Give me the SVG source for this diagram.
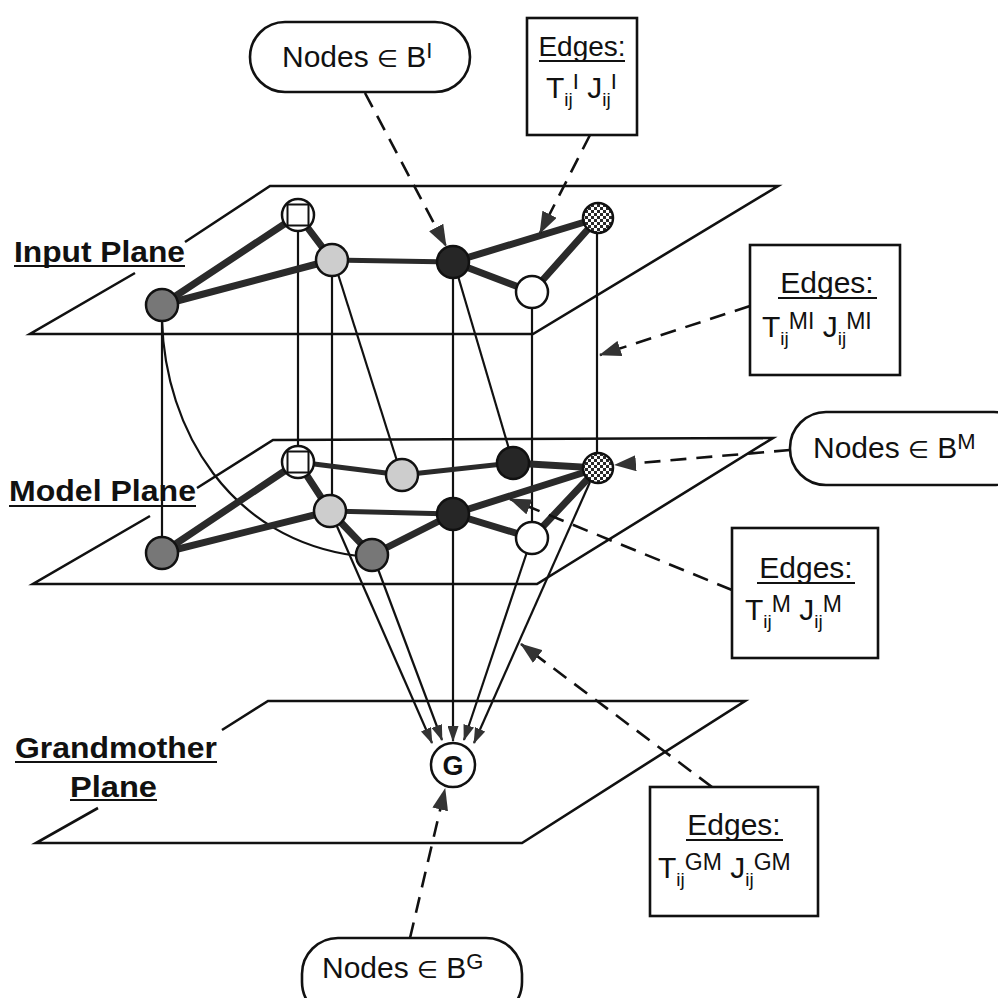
<svg xmlns="http://www.w3.org/2000/svg" width="998" height="998" viewBox="0 0 998 998">
<defs>
<style>
.plane{fill:none;stroke:#111;stroke-width:2.6;stroke-linejoin:miter}
.edge{stroke:#2a2a2a;stroke-width:7;stroke-linecap:round}
.edge2{stroke:#2a2a2a;stroke-width:5;stroke-linecap:round}
.thin{stroke:#111;stroke-width:2.2;fill:none}
.dash{stroke:#111;stroke-width:2.6;stroke-dasharray:16 10;fill:none}
.node{stroke:#111;stroke-width:2.5}
.txt{font-family:"Liberation Sans",Arial,"DejaVu Sans",sans-serif;fill:#111}
.bold{font-weight:bold}
.box{fill:#fff;stroke:#111;stroke-width:2.6}
.ul{stroke:#111;stroke-width:2}
</style>
<pattern id="chk" width="6" height="6" patternUnits="userSpaceOnUse"><rect width="6" height="6" fill="#2a2a2a"/><rect width="3" height="3" fill="#fff"/><rect x="3" y="3" width="3" height="3" fill="#fff"/></pattern>
<marker id="ah" viewBox="0 0 22 16" refX="21" refY="8" markerWidth="22" markerHeight="16" markerUnits="userSpaceOnUse" orient="auto"><path d="M0,0 L22,8 L0,16 z" fill="#333"/></marker>
<marker id="as" viewBox="0 0 16 11" refX="15" refY="5.5" markerWidth="16" markerHeight="11" markerUnits="userSpaceOnUse" orient="auto"><path d="M0,0 L16,5.5 L0,11 z" fill="#333"/></marker>
</defs>
<rect width="998" height="998" fill="#fff"/>

<g id="planes">
<path id="input-plane" class="plane" d="M185,242 L270,186 L778,186 L533,334 L30,334 L135,273"/>
<path id="model-plane" class="plane" d="M197,488 L273,440 L773,438 L537,584 L33,584 L150,516"/>
<path id="grandmother-plane" class="plane" d="M222,730 L268,701 L745,701 L522,843 L36,843 L98,808"/>
</g>

<g id="connectors">
<!-- inter-plane lines -->
<line class="thin" x1="162" y1="320" x2="162" y2="538"/>
<path class="thin" d="M162,320 C165,430 230,540 358,556"/>
<line class="thin" x1="298" y1="230" x2="298" y2="447"/>
<line class="thin" x1="332" y1="275" x2="332" y2="496"/>
<line class="thin" x1="338" y1="274" x2="397" y2="461"/>
<line class="thin" x1="453" y1="277" x2="453" y2="499"/>
<line class="thin" x1="458" y1="276" x2="509" y2="449"/>
<line class="thin" x1="532" y1="307" x2="532" y2="523"/>
<line class="thin" x1="597" y1="233" x2="597" y2="453"/>
<!-- model to grandmother -->
<line class="thin" x1="336" y1="524" x2="432" y2="743" marker-end="url(#as)"/>
<line class="thin" x1="378" y1="569" x2="442" y2="740" marker-end="url(#as)"/>
<line class="thin" x1="453" y1="529" x2="453" y2="741" marker-end="url(#as)"/>
<line class="thin" x1="527" y1="552" x2="464" y2="740" marker-end="url(#as)"/>
<line class="thin" x1="590" y1="482" x2="474" y2="743" marker-end="url(#as)"/>
<!-- input plane edges -->
<line class="edge" x1="162" y1="305" x2="298" y2="215"/>
<line class="edge" x1="162" y1="305" x2="332" y2="260"/>
<line class="edge" x1="298" y1="215" x2="332" y2="260"/>
<line class="edge2" x1="332" y1="260" x2="453" y2="262"/>
<line class="edge" x1="453" y1="262" x2="598" y2="218"/>
<line class="edge" x1="453" y1="262" x2="532" y2="292"/>
<line class="edge" x1="532" y1="292" x2="598" y2="218"/>
<!-- model plane edges -->
<line class="edge" x1="162" y1="553" x2="298" y2="462"/>
<line class="edge" x1="162" y1="553" x2="330" y2="511"/>
<line class="edge" x1="298" y1="462" x2="330" y2="511"/>
<line class="edge2" x1="298" y1="462" x2="402" y2="475"/>
<line class="edge2" x1="402" y1="475" x2="513" y2="463"/>
<line class="edge" x1="513" y1="463" x2="598" y2="468"/>
<line class="edge2" x1="330" y1="511" x2="453" y2="514"/>
<line class="edge" x1="330" y1="511" x2="372" y2="555"/>
<line class="edge" x1="372" y1="555" x2="453" y2="514"/>
<line class="edge" x1="453" y1="514" x2="598" y2="468"/>
<line class="edge" x1="453" y1="514" x2="532" y2="538"/>
<line class="edge" x1="532" y1="538" x2="598" y2="468"/>
<!-- dashed annotation arrows -->
<line class="dash" x1="365" y1="93" x2="446" y2="246" marker-end="url(#ah)"/>
<line class="dash" x1="590" y1="135" x2="540" y2="233" marker-end="url(#ah)"/>
<line class="dash" x1="750" y1="306" x2="600" y2="355" marker-end="url(#ah)"/>
<line class="dash" x1="790" y1="450" x2="615" y2="465" marker-end="url(#ah)"/>
<line class="dash" x1="732" y1="590" x2="510" y2="499" marker-end="url(#ah)"/>
<line class="dash" x1="712" y1="787" x2="521" y2="644" marker-end="url(#ah)"/>
<line class="dash" x1="410" y1="938" x2="445" y2="789" marker-end="url(#ah)"/>
</g>

<!-- input plane nodes -->
<g id="nI-A"><circle class="node" cx="162" cy="305" r="16" fill="#777"/></g>
<g id="nI-B"><circle class="node" cx="298" cy="215" r="16" fill="#fff"/><rect x="287.5" y="204.5" width="21" height="21" fill="none" stroke="#111" stroke-width="2"/></g>
<g id="nI-C"><circle class="node" cx="332" cy="260" r="16" fill="#cdcdcd"/></g>
<g id="nI-D"><circle class="node" cx="453" cy="262" r="16" fill="#262626"/></g>
<g id="nI-E"><circle class="node" cx="532" cy="292" r="16" fill="#fff"/></g>
<g id="nI-F"><circle class="node" cx="598" cy="218" r="15" fill="url(#chk)"/></g>

<!-- model plane nodes -->
<g id="nM-A"><circle class="node" cx="162" cy="553" r="16" fill="#777"/></g>
<g id="nM-B"><circle class="node" cx="298" cy="462" r="16" fill="#fff"/><rect x="287.5" y="451.5" width="21" height="21" fill="none" stroke="#111" stroke-width="2"/></g>
<g id="nM-C2"><circle class="node" cx="402" cy="475" r="16" fill="#cdcdcd"/></g>
<g id="nM-D2"><circle class="node" cx="513" cy="463" r="16" fill="#262626"/></g>
<g id="nM-F"><circle class="node" cx="598" cy="468" r="15" fill="url(#chk)"/></g>
<g id="nM-C"><circle class="node" cx="330" cy="511" r="16" fill="#cdcdcd"/></g>
<g id="nM-D"><circle class="node" cx="453" cy="514" r="16" fill="#262626"/></g>
<g id="nM-E"><circle class="node" cx="532" cy="538" r="16" fill="#fff"/></g>
<g id="nM-G"><circle class="node" cx="372" cy="555" r="16" fill="#777"/></g>

<!-- grandmother node -->
<g id="nG"><circle class="node" cx="453" cy="765" r="22" fill="#fff"/><text class="txt bold" x="453" y="775" font-size="27" text-anchor="middle">G</text></g>

<!-- plane labels -->
<g id="lbl-input"><text class="txt bold" x="14" y="262" font-size="30" textLength="171" lengthAdjust="spacingAndGlyphs">Input Plane</text><line class="ul" x1="14" y1="266" x2="185" y2="266"/></g>
<g id="lbl-model"><text class="txt bold" x="9" y="501" font-size="30" textLength="187" lengthAdjust="spacingAndGlyphs">Model Plane</text><line class="ul" x1="9" y1="506" x2="196" y2="506"/></g>
<g id="lbl-grand"><text class="txt bold" x="15" y="758" font-size="30" textLength="202" lengthAdjust="spacingAndGlyphs">Grandmother</text><line class="ul" x1="15" y1="762" x2="217" y2="762"/>
<text class="txt bold" x="70" y="797" font-size="30" textLength="87" lengthAdjust="spacingAndGlyphs">Plane</text><line class="ul" x1="70" y1="800" x2="157" y2="800"/></g>

<!-- annotation labels -->
<g id="lbl-nodesI"><rect class="box" x="250" y="22" width="220" height="70" rx="35"/>
<text class="txt" x="282" y="67" font-size="30">Nodes <tspan font-size="24">∈</tspan> B<tspan font-size="22" dy="-9">I</tspan></text></g>

<g id="lbl-edgesI"><rect class="box" x="527" y="18" width="110" height="117"/>
<text class="txt" x="582" y="56" font-size="28" text-anchor="middle">Edges:</text><line class="ul" x1="539" y1="61" x2="625" y2="61"/>
<text class="txt" x="546" y="98" font-size="30">T<tspan font-size="19" dy="8">ij</tspan><tspan font-size="22" dy="-17">I</tspan><tspan dy="9"> J</tspan><tspan font-size="19" dy="8">ij</tspan><tspan font-size="22" dy="-17">I</tspan></text></g>

<g id="lbl-edgesMI"><rect class="box" x="750" y="245" width="150" height="130"/>
<text class="txt" x="827" y="293" font-size="30" text-anchor="middle">Edges:</text><line class="ul" x1="778" y1="298" x2="877" y2="298"/>
<text class="txt" x="762" y="337" font-size="30">T<tspan font-size="19" dy="8">ij</tspan><tspan font-size="23" dy="-16">MI</tspan><tspan dy="8">  J</tspan><tspan font-size="19" dy="8">ij</tspan><tspan font-size="23" dy="-16">MI</tspan></text></g>

<g id="lbl-nodesM"><rect class="box" x="790" y="412" width="240" height="73" rx="36"/>
<text class="txt" x="813" y="458" font-size="30">Nodes <tspan font-size="24">∈</tspan> B<tspan font-size="22" dy="-9">M</tspan></text></g>

<g id="lbl-edgesM"><rect class="box" x="732" y="528" width="146" height="130"/>
<text class="txt" x="806" y="578" font-size="30" text-anchor="middle">Edges:</text><line class="ul" x1="757" y1="583" x2="855" y2="583"/>
<text class="txt" x="745" y="620" font-size="30">T<tspan font-size="19" dy="8">ij</tspan><tspan font-size="23" dy="-16">M</tspan><tspan dy="8">  J</tspan><tspan font-size="19" dy="8">ij</tspan><tspan font-size="23" dy="-16">M</tspan></text></g>

<g id="lbl-edgesGM"><rect class="box" x="650" y="787" width="168" height="129"/>
<text class="txt" x="734" y="835" font-size="30" text-anchor="middle">Edges:</text><line class="ul" x1="686" y1="840" x2="783" y2="840"/>
<text class="txt" x="658" y="878" font-size="30">T<tspan font-size="19" dy="8">ij</tspan><tspan font-size="23" dy="-16">GM</tspan><tspan dy="8">  J</tspan><tspan font-size="19" dy="8">ij</tspan><tspan font-size="23" dy="-16">GM</tspan></text></g>

<g id="lbl-nodesG"><rect class="box" x="302" y="938" width="220" height="80" rx="36"/>
<text class="txt" x="322" y="978" font-size="30">Nodes <tspan font-size="24">∈</tspan> B<tspan font-size="22" dy="-9">G</tspan></text></g>
</svg>
